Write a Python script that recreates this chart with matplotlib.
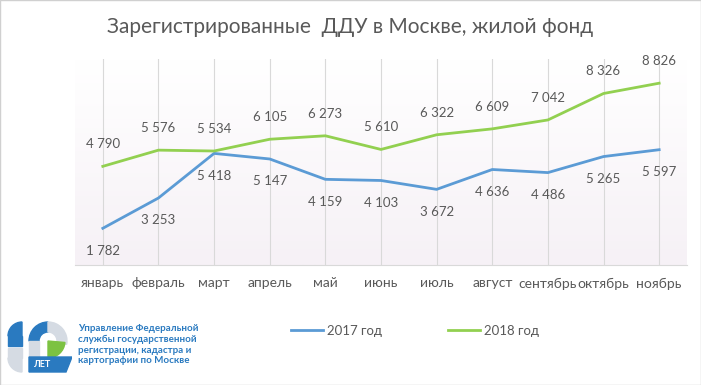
import matplotlib
matplotlib.use("Agg")
import matplotlib.pyplot as plt
import numpy as np
from matplotlib.patches import Wedge, Polygon, Rectangle

plt.rcParams['font.family'] = ['Lato', 'DejaVu Sans']

months = ["январь", "февраль", "март", "апрель", "май", "июнь",
          "июль", "август", "сентябрь", "октябрь", "ноябрь"]
y2017 = [1782, 3253, 5418, 5147, 4159, 4103, 3672, 4636, 4486, 5265, 5597]
y2018 = [4790, 5576, 5534, 6105, 6273, 5610, 6322, 6609, 7042, 8326, 8826]

blue = '#5b9bd5'
green = '#92d050'
txt = '#595959'

def fmt(v):
    return "{:,}".format(v).replace(",", " ")

fig = plt.figure(figsize=(7.01, 3.85), dpi=100)
fig.patch.set_facecolor('white')

ax = fig.add_axes([0.107, 0.3117, 0.873, 0.535])
x = np.arange(len(months))

# faint background gradient
grad = np.linspace(0, 1, 100).reshape(-1, 1)
cmap = matplotlib.colors.LinearSegmentedColormap.from_list('bg', ['#f6f1f6', '#ffffff'])
ax.imshow(grad, aspect='auto', cmap=cmap, extent=[-0.5, 10.5, 0, 10000],
          origin='lower', zorder=0)

for xi in x:
    ax.axvline(xi, color='#d9d9d9', lw=0.8, zorder=1)

ax.plot(x, y2017, color=blue, lw=2, label='2017 год', zorder=3)
ax.plot(x, y2018, color=green, lw=2, label='2018 год', zorder=3)

for xi, v in zip(x, y2017):
    ax.annotate(fmt(v), (xi, v), xytext=(0, -16), textcoords='offset points',
                ha='center', va='center', fontsize=9.5, color=txt)
for xi, v in zip(x, y2018):
    ax.annotate(fmt(v), (xi, v), xytext=(0, 16), textcoords='offset points',
                ha='center', va='center', fontsize=9.5, color=txt)

ax.set_xlim(-0.5, 10.5)
ax.set_ylim(0, 10000)
ax.set_xticks(x)
ax.set_xticklabels(months, fontsize=10, color=txt)
ax.tick_params(axis='x', length=0, pad=9)
ax.set_yticks([])
for s in ['top', 'left', 'right']:
    ax.spines[s].set_visible(False)
ax.spines['bottom'].set_color('#d9d9d9')

fig.text(0.5, 0.93, "Зарегистрированные  ДДУ в Москве, жилой фонд",
         ha='center', va='center', fontsize=15, color=txt)

leg = fig.legend(loc='center', bbox_to_anchor=(0.592, 0.141), ncol=2, frameon=False,
                 fontsize=9.5, handlelength=2.4, columnspacing=5, handletextpad=0.3)
for t in leg.get_texts():
    t.set_color(txt)

# logo
lax = fig.add_axes([6 / 701, 11 / 385, 66 / 701, 54 / 385])
lax.set_xlim(0, 66)
lax.set_ylim(0, 54)
lax.axis('off')
logo_blue = '#2a7ac0'
logo_gray = '#d5dbe3'
logo_green = '#7cc242'
lax.add_patch(Wedge((16, 38), 14, 90, 180, color=logo_blue))
lax.add_patch(Rectangle((2, 28), 14, 10, color=logo_blue))
lax.add_patch(Rectangle((2, 16), 14, 10.5, color=logo_gray))
lax.add_patch(Wedge((16, 16), 14, 180, 270, color=logo_gray))
lax.add_patch(Wedge((42, 33), 19, 90, 180, width=10, color=logo_blue))
lax.add_patch(Wedge((42, 33), 19, -10, 90, width=10, color=logo_gray))
lax.add_patch(Wedge((42, 33), 17, -90, -5, color=logo_green))
lax.add_patch(Rectangle((23, 17), 10, 16, color=logo_gray))
lax.add_patch(Polygon([[23, 2], [60, 2], [66, 17], [23, 17]], color=logo_blue))
lax.text(37, 9.5, "ЛЕТ", color='white', fontsize=6.5, ha='center', va='center',
         fontweight='bold')

fig.text(78 / 701, 1 - 324 / 385,
         "Управление Федеральной\nслужбы государственной\nрегистрации, кадастра и\nкартографии по Москве",
         ha='left', va='top', fontsize=7, color='#2a7ac0', fontweight='bold',
         linespacing=1.25)

fig.add_artist(Rectangle((0, 0), 1, 1, transform=fig.transFigure, fill=False,
                         edgecolor='#d0d0d0', lw=1))

fig.savefig('out.png', dpi=100)
